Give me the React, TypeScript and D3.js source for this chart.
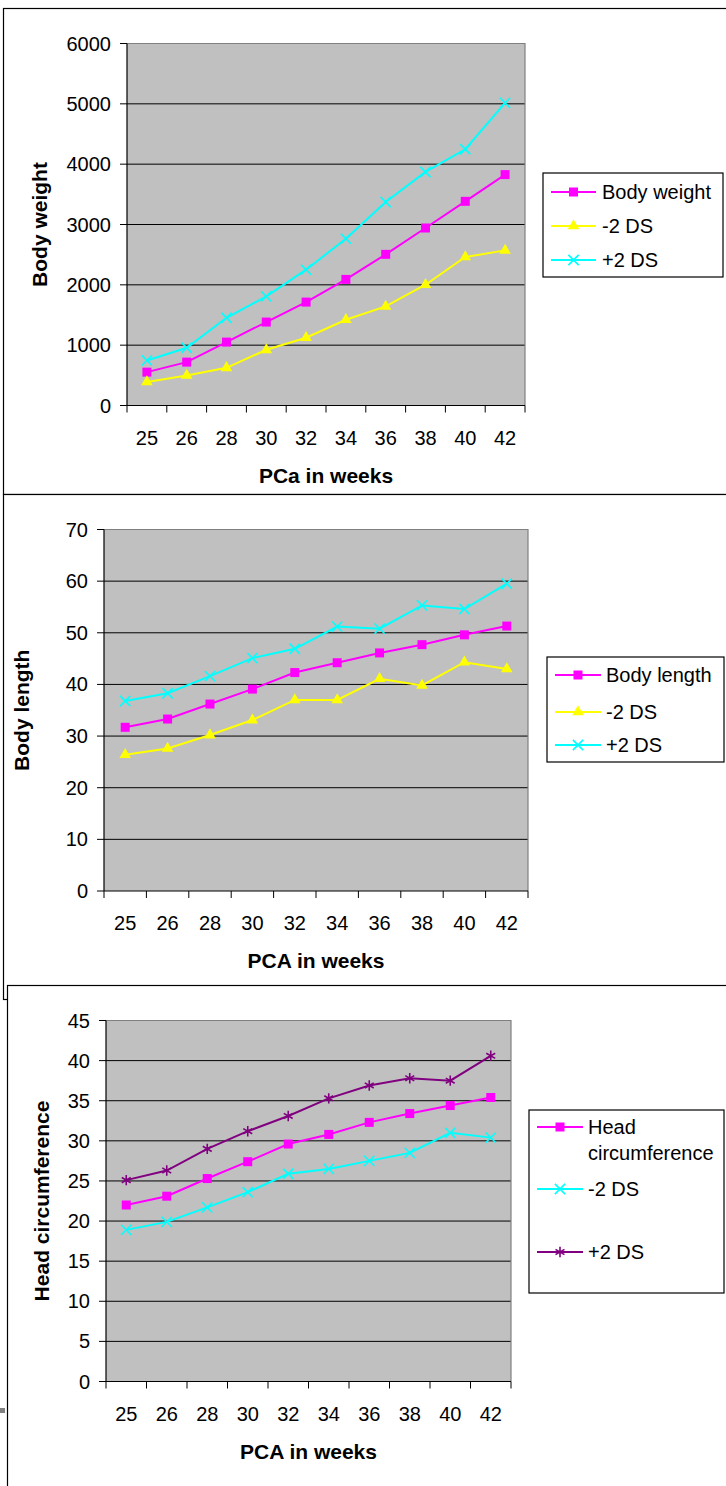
import React from 'react';
import * as d3 from 'd3';

// PCA (weeks) categories, shared by all three charts
const weeks = ['25', '26', '28', '30', '32', '34', '36', '38', '40', '42'];

// Body weight (g)
const weightBody = [553, 719, 1051, 1383, 1714, 2090, 2505, 2942, 3384, 3827];
const weightMinus2 = [390, 498, 625, 923, 1123, 1421, 1642, 2002, 2461, 2571];
const weightPlus2 = [747, 957, 1454, 1808, 2251, 2765, 3373, 3871, 4247, 5016];
const weightTicks = [0, 1000, 2000, 3000, 4000, 5000, 6000];

// Body length (cm)
const lengthBody = [31.7, 33.3, 36.2, 39.1, 42.3, 44.2, 46.1, 47.7, 49.6, 51.3];
const lengthMinus2 = [26.4, 27.6, 30.2, 33.1, 37.0, 37.0, 41.1, 39.8, 44.3, 43.0];
const lengthPlus2 = [36.8, 38.3, 41.6, 45.1, 46.9, 51.2, 50.8, 55.3, 54.6, 59.5];
const lengthTicks = [0, 10, 20, 30, 40, 50, 60, 70];

// Head circumference (cm)
const headBody = [22.0, 23.1, 25.3, 27.4, 29.6, 30.8, 32.3, 33.4, 34.4, 35.4];
const headMinus2 = [18.9, 19.9, 21.7, 23.6, 25.9, 26.5, 27.5, 28.5, 31.0, 30.4];
const headPlus2 = [25.1, 26.3, 29.0, 31.2, 33.1, 35.3, 36.9, 37.8, 37.5, 40.6];
const headTicks = [0, 5, 10, 15, 20, 25, 30, 35, 40, 45];

const FONT = 'Arial, "Liberation Sans", sans-serif';
const MAGENTA = '#ff00ff';
const YELLOW = '#ffff00';
const CYAN = '#00ffff';
const PURPLE = '#800080';

type MarkerKind = 'square' | 'triangle' | 'times' | 'asterisk';

const markerPath = (kind: MarkerKind) => {
  if (kind === 'square') return d3.symbol(d3.symbolSquare, 81)()!;
  if (kind === 'triangle') return d3.symbol(d3.symbolTriangle, 58)()!;
  if (kind === 'times') return d3.symbol(d3.symbolTimes, 70)()!;
  return d3.symbol(d3.symbolAsterisk, 75)()!;
};

const Marker = ({ kind, color, x, y }: { kind: MarkerKind; color: string; x: number; y: number }) => {
  const filled = kind === 'square' || kind === 'triangle';
  return (
    <path
      d={markerPath(kind)}
      transform={`translate(${x},${y})`}
      fill={filled ? color : 'none'}
      stroke={filled ? 'none' : color}
      strokeWidth={1.6}
    />
  );
};

type Series = { name: string[]; values: number[]; color: string; marker: MarkerKind };

type ChartProps = {
  plot: { x0: number; x1: number; y0: number; y1: number };
  ticks: number[];
  series: Series[];
  xTitle: string;
  yTitle: string;
  yTitleX: number;
  legend: { x: number; y: number; w: number; h: number; lineX0: number; lineX1: number; textX: number; rows: number[] };
};

const Chart = ({ plot, ticks, series, xTitle, yTitle, yTitleX, legend }: ChartProps) => {
  const x = d3.scaleBand().domain(weeks).range([plot.x0, plot.x1]).padding(0);
  const y = d3.scaleLinear().domain([ticks[0], ticks[ticks.length - 1]]).range([plot.y1, plot.y0]);
  const line = d3
    .line<number>()
    .x((_, i) => x(weeks[i])! + x.bandwidth() / 2)
    .y(d => y(d));
  const edges = [...weeks.map(w => x(w)!), plot.x1];

  return (
    <g fontFamily={FONT}>
      <rect x={plot.x0} y={plot.y0} width={plot.x1 - plot.x0} height={plot.y1 - plot.y0} fill="#c0c0c0" />
      {ticks.slice(1, -1).map(t => (
        <line key={t} x1={plot.x0} x2={plot.x1} y1={y(t)} y2={y(t)} stroke="#000" strokeWidth={1} />
      ))}
      <path
        d={`M${plot.x0},${plot.y0}H${plot.x1}V${plot.y1}`}
        fill="none"
        stroke="#808080"
        strokeWidth={1.2}
      />
      <line x1={plot.x0} x2={plot.x0} y1={plot.y0} y2={plot.y1} stroke="#000" strokeWidth={1.2} />
      <line x1={plot.x0} x2={plot.x1} y1={plot.y1} y2={plot.y1} stroke="#000" strokeWidth={1.2} />
      {ticks.map(t => (
        <g key={t}>
          <line x1={plot.x0 - 7} x2={plot.x0} y1={y(t)} y2={y(t)} stroke="#000" />
          <text x={plot.x0 - 16} y={y(t)} dy="0.35em" textAnchor="end" fontSize={20}>
            {t}
          </text>
        </g>
      ))}
      {edges.map((e, i) => (
        <line key={i} x1={e} x2={e} y1={plot.y1} y2={plot.y1 + 7} stroke="#000" />
      ))}
      {weeks.map(w => (
        <text key={w} x={x(w)! + x.bandwidth() / 2} y={plot.y1 + 32} dy="0.35em" textAnchor="middle" fontSize={20}>
          {w}
        </text>
      ))}
      <text
        x={(plot.x0 + plot.x1) / 2}
        y={plot.y1 + 70}
        dy="0.35em"
        textAnchor="middle"
        fontSize={21}
        fontWeight="bold"
      >
        {xTitle}
      </text>
      <text
        transform={`translate(${yTitleX},${(plot.y0 + plot.y1) / 2}) rotate(-90)`}
        dy="0.35em"
        textAnchor="middle"
        fontSize={21}
        fontWeight="bold"
      >
        {yTitle}
      </text>
      {series.map(s => (
        <g key={s.name.join(' ')}>
          <path d={line(s.values)!} fill="none" stroke={s.color} strokeWidth={2} />
          {s.values.map((v, i) => (
            <Marker key={i} kind={s.marker} color={s.color} x={x(weeks[i])! + x.bandwidth() / 2} y={y(v)} />
          ))}
        </g>
      ))}
      <rect x={legend.x} y={legend.y} width={legend.w} height={legend.h} fill="#fff" stroke="#000" strokeWidth={1.2} />
      {series.map((s, i) => {
        const ry = legend.rows[i];
        return (
          <g key={i}>
            <line x1={legend.lineX0} x2={legend.lineX1} y1={ry} y2={ry} stroke={s.color} strokeWidth={2} />
            <Marker kind={s.marker} color={s.color} x={(legend.lineX0 + legend.lineX1) / 2} y={ry} />
            {s.name.map((n, j) => (
              <text key={j} x={legend.textX} y={ry + j * 26} dy="0.35em" fontSize={20}>
                {n}
              </text>
            ))}
          </g>
        );
      })}
    </g>
  );
};

const App = () => {
  return (
    <svg
      width={726}
      height={1486}
      style={{ position: 'absolute', left: 0, top: 0, background: '#fff' }}
    >
      {/* panel frames */}
      <rect x={3.5} y={8.5} width={800} height={486} fill="#fff" stroke="#000" strokeWidth={1.2} />
      <rect x={3.5} y={494.5} width={800} height={505} fill="#fff" stroke="#000" strokeWidth={1.2} />
      <rect x={7.5} y={985.5} width={800} height={600} fill="#fff" stroke="#000" strokeWidth={1.2} />
      <rect x={0} y={1408} width={5} height={5} fill="#808080" />

      <Chart
        plot={{ x0: 127, x1: 525, y0: 43.5, y1: 405.5 }}
        ticks={weightTicks}
        series={[
          { name: ['Body weight'], values: weightBody, color: MAGENTA, marker: 'square' },
          { name: ['-2 DS'], values: weightMinus2, color: YELLOW, marker: 'triangle' },
          { name: ['+2 DS'], values: weightPlus2, color: CYAN, marker: 'times' },
        ]}
        xTitle="PCa in weeks"
        yTitle="Body weight"
        yTitleX={40}
        legend={{ x: 543, y: 173, w: 180, h: 104, lineX0: 551, lineX1: 596, textX: 602, rows: [192, 226, 260] }}
      />
      <Chart
        plot={{ x0: 104, x1: 528, y0: 529.5, y1: 891 }}
        ticks={lengthTicks}
        series={[
          { name: ['Body length'], values: lengthBody, color: MAGENTA, marker: 'square' },
          { name: ['-2 DS'], values: lengthMinus2, color: YELLOW, marker: 'triangle' },
          { name: ['+2 DS'], values: lengthPlus2, color: CYAN, marker: 'times' },
        ]}
        xTitle="PCA in weeks"
        yTitle="Body length"
        yTitleX={22}
        legend={{ x: 547, y: 657, w: 177, h: 105, lineX0: 555, lineX1: 601, textX: 606, rows: [675, 712, 745] }}
      />
      <Chart
        plot={{ x0: 106, x1: 511, y0: 1020.5, y1: 1381.5 }}
        ticks={headTicks}
        series={[
          { name: ['Head', 'circumference'], values: headBody, color: MAGENTA, marker: 'square' },
          { name: ['-2 DS'], values: headMinus2, color: CYAN, marker: 'times' },
          { name: ['+2 DS'], values: headPlus2, color: PURPLE, marker: 'asterisk' },
        ]}
        xTitle="PCA in weeks"
        yTitle="Head circumference"
        yTitleX={42}
        legend={{ x: 529, y: 1110, w: 195, h: 183, lineX0: 537, lineX1: 583, textX: 588, rows: [1127, 1189, 1252] }}
      />
    </svg>
  );
};

export default App;
